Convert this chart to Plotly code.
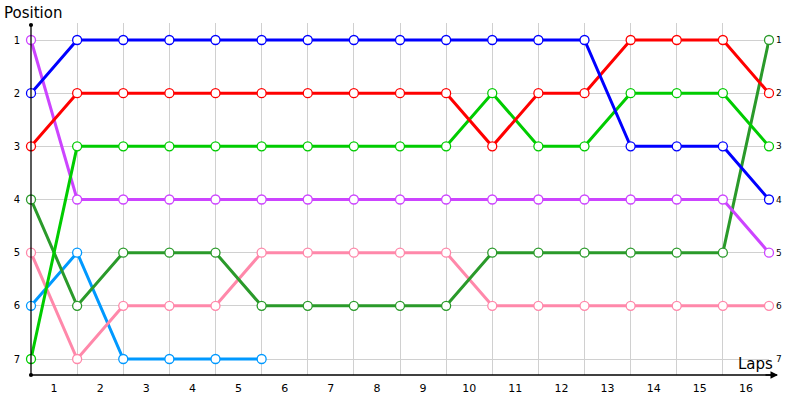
import plotly.graph_objects as go

laps = list(range(1, 17))
points = list(range(0, 17))
positions = [1, 2, 3, 4, 5, 6, 7]

series_names = ["Blue", "Red", "Green", "Purple", "DarkGreen", "Pink", "LightBlue"]
blue = [2, 1, 1, 1, 1, 1, 1, 1, 1, 1, 1, 1, 1, 3, 3, 3, 4]
red = [3, 2, 2, 2, 2, 2, 2, 2, 2, 2, 3, 2, 2, 1, 1, 1, 2]
green = [7, 3, 3, 3, 3, 3, 3, 3, 3, 3, 2, 3, 3, 2, 2, 2, 3]
purple = [1, 4, 4, 4, 4, 4, 4, 4, 4, 4, 4, 4, 4, 4, 4, 4, 5]
darkgreen = [4, 6, 5, 5, 5, 6, 6, 6, 6, 6, 5, 5, 5, 5, 5, 5, 1]
pink = [5, 7, 6, 6, 6, 5, 5, 5, 5, 5, 6, 6, 6, 6, 6, 6, 6]
lightblue = [6, 5, 7, 7, 7, 7]

colors = ["#0000ff", "#ff0000", "#00cc00", "#cc44ff", "#2a9a2a", "#ff88aa", "#0099ff"]
all_series = [blue, red, green, purple, darkgreen, pink, lightblue]

fig = go.Figure()
order = [6, 5, 4, 3, 2, 1, 0]
for k in order:
    vals = all_series[k]
    fig.add_trace(go.Scatter(
        x=points[:len(vals)], y=vals, mode="lines+markers", name=series_names[k],
        line=dict(color=colors[k], width=3),
        marker=dict(size=9, color="white", line=dict(color=colors[k], width=1.3)),
        cliponaxis=False, showlegend=False,
    ))

fig.update_layout(
    template="none",
    width=800, height=400,
    margin=dict(l=31, r=31, t=23, b=25, pad=0),
    plot_bgcolor="white", paper_bgcolor="white",
    font=dict(family="DejaVu Sans", color="#000000"),
    xaxis=dict(
        automargin=False,
        range=[0, 16], tickmode="array",
        tickvals=[l - 0.5 for l in laps], ticktext=[str(l) for l in laps],
        showgrid=False, zeroline=False, showline=False, ticks="",
        tickfont=dict(size=11, family="DejaVu Sans"), ticklabelstandoff=5,
        minor=dict(tickvals=points[1:], showgrid=True, gridcolor="#d0d0d0", gridwidth=1, ticks=""),
    ),
    yaxis=dict(
        automargin=False,
        range=[7.301, 0.68], tickmode="array", tickvals=positions,
        ticktext=[str(p) for p in positions],
        showgrid=True, gridcolor="#d0d0d0", gridwidth=1, zeroline=False,
        showline=False, ticks="",
        tickfont=dict(size=10, family="DejaVu Sans"), ticklabelstandoff=10,
    ),
)

# right-side position labels
for p in positions:
    fig.add_annotation(x=1, xref="paper", y=p, yref="y", text=str(p), showarrow=False,
                       xanchor="left", xshift=5, font=dict(size=9, family="DejaVu Sans", color="black"))

# y axis line (starts slightly below top of grid)
fig.add_shape(type="line", xref="paper", yref="paper", x0=0, x1=0, y0=0, y1=0.9943,
              line=dict(color="black", width=1.3))
# x axis line with arrow
fig.add_shape(type="line", xref="paper", yref="paper", x0=0, x1=1.0108, y0=0, y1=0,
              line=dict(color="black", width=1.3))
fig.add_annotation(x=1.0122, xref="paper", y=0, yref="paper", ax=-14, ay=0, text="",
                   showarrow=True, arrowhead=2, arrowsize=1, arrowwidth=1.5, arrowcolor="black")
# dots at origin and top of y axis
fig.add_shape(type="circle", xref="paper", yref="paper", x0=-0.0028, x1=0.0028, y0=-0.0057, y1=0.0057,
              fillcolor="black", line=dict(width=0))
fig.add_shape(type="circle", xref="paper", yref="paper", x0=-0.0028, x1=0.0028, y0=0.9886, y1=1.0,
              fillcolor="black", line=dict(width=0))

# axis titles
fig.add_annotation(x=0, xref="paper", y=1, yref="paper", text="Position", showarrow=False,
                   xanchor="left", yanchor="bottom", xshift=-29, yshift=-1,
                   font=dict(size=15, family="DejaVu Sans", color="black"))
fig.add_annotation(x=1, xref="paper", y=0, yref="paper", text="Laps", showarrow=False,
                   xanchor="right", yanchor="bottom", xshift=6, yshift=0,
                   font=dict(size=15, family="DejaVu Sans", color="black"))

fig.write_html("out.html", config={"displayModeBar": False},
               post_script="document.body.style.margin='0';document.body.style.overflow='hidden';")
